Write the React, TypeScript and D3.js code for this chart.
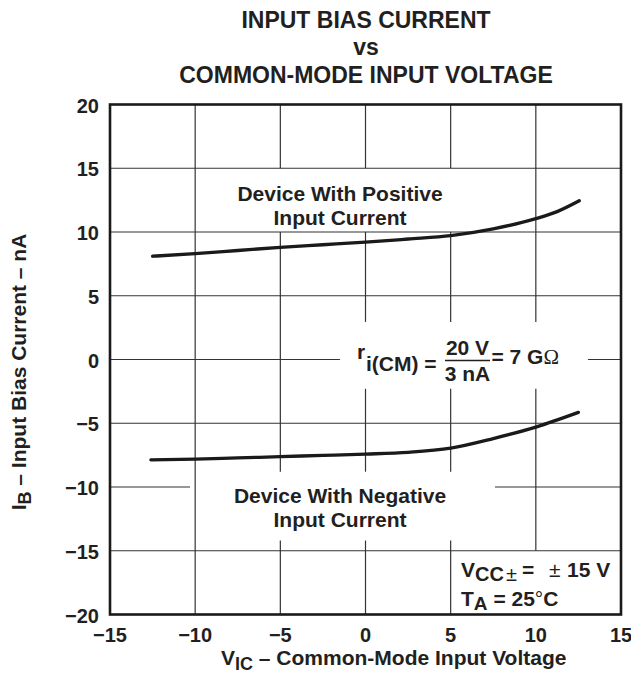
import React from "react";
import * as d3 from "d3";

const xTicks = [-15, -10, -5, 0, 5, 10, 15];
const yTicks = [20, 15, 10, 5, 0, -5, -10, -15, -20];
const xTickLabels = ["\u221215", "\u221210", "\u22125", "0", "5", "10", "15"];
const yTickLabels = ["20", "15", "10", "5", "0", "\u22125", "\u221210", "\u221215", "\u221220"];

const posX = [-12.5, -10, -7.5, -5, -2.5, 0, 2.5, 5, 7.5, 10, 11.25, 12.55];
const posY = [8.1, 8.3, 8.55, 8.8, 9.0, 9.2, 9.45, 9.72, 10.25, 11.05, 11.6, 12.45];
const negX = [-12.6, -10, -7.5, -5, -2.5, 0, 2.5, 5, 7.5, 10, 12.5];
const negY = [-7.87, -7.82, -7.72, -7.62, -7.52, -7.42, -7.28, -6.95, -6.2, -5.3, -4.15];

const FONT = "'Liberation Sans', Arial, Helvetica, sans-serif";

// gaps in gridlines (data units) where annotations sit
const vGaps: Record<string, number[][]> = {
  "-5": [[10, 15], [-14.2, -8.8]],
  "0": [[10, 15], [-2.3, 2.95], [-14.2, -8.8]],
  "5": [[10, 15], [-2.3, 2.95], [-14.2, -8.8]],
  "10": [[-2.3, 2.95], [-20, -15]],
};
const hGaps: Record<string, number[][]> = {
  "0": [[-1.5, 13.06]],
  "-10": [[-10.3, 7.6]],
};

function segments(lo: number, hi: number, gaps: number[][] = []) {
  const g = [...gaps].sort((a, b) => a[0] - b[0]);
  const out: number[][] = [];
  let cur = lo;
  for (const [a, b] of g) {
    if (a > cur) out.push([cur, Math.min(a, hi)]);
    cur = Math.max(cur, b);
  }
  if (cur < hi) out.push([cur, hi]);
  return out;
}

export default function App() {
  const x = d3.scaleLinear().domain([-15, 15]).range([110, 621]);
  const y = d3.scaleLinear().domain([-20, 20]).range([614.5, 104.5]);
  const line = d3
    .line<[number, number]>()
    .x((d) => x(d[0]))
    .y((d) => y(d[1]))
    .curve(d3.curveMonotoneX);
  const posPts = posX.map((v, i) => [v, posY[i]] as [number, number]);
  const negPts = negX.map((v, i) => [v, negY[i]] as [number, number]);
  const gridColor = "#333";

  const gridLines: JSX.Element[] = [];
  xTicks.slice(1, -1).forEach((xv) => {
    segments(-20, 20, vGaps[String(xv)]).forEach(([a, b], k) => {
      gridLines.push(
        <line key={`v${xv}_${k}`} x1={x(xv)} x2={x(xv)} y1={y(a)} y2={y(b)} stroke={gridColor} strokeWidth={1.2} />
      );
    });
  });
  yTicks.slice(1, -1).forEach((yv) => {
    segments(-15, 15, hGaps[String(yv)]).forEach(([a, b], k) => {
      gridLines.push(
        <line key={`h${yv}_${k}`} y1={y(yv)} y2={y(yv)} x1={x(a)} x2={x(b)} stroke={gridColor} strokeWidth={1.2} />
      );
    });
  });

  const thin = { fontWeight: "normal" as const };

  return (
    <svg
      width={631}
      height={677}
      style={{ position: "absolute", left: 0, top: 0, background: "#fff" }}
      fontFamily={FONT}
      fontWeight="bold"
      fill="#231f20"
    >
      <rect x={0} y={0} width={631} height={677} fill="#fff" />
      <g textAnchor="middle" fontSize={23}>
        <text x={366} y={28}>INPUT BIAS CURRENT</text>
        <text x={366} y={55}>vs</text>
        <text x={366} y={83}>COMMON-MODE INPUT VOLTAGE</text>
      </g>
      {gridLines}
      <path d={line(posPts) || ""} fill="none" stroke="#1a1a1a" strokeWidth={3.3} strokeLinecap="round" />
      <path d={line(negPts) || ""} fill="none" stroke="#1a1a1a" strokeWidth={3.3} strokeLinecap="round" />
      <rect x={x(-15)} y={y(20)} width={x(15) - x(-15)} height={y(-20) - y(20)} fill="none" stroke="#1a1a1a" strokeWidth={2.6} />

      <g fontSize={20}>
        {yTicks.map((v, i) => (
          <text key={`yt${v}`} x={99} y={y(v) + 8} textAnchor="end">{yTickLabels[i]}</text>
        ))}
        {xTicks.map((v, i) => (
          <text key={`xt${v}`} x={x(v)} y={642} textAnchor="middle">{xTickLabels[i]}</text>
        ))}
      </g>

      <g fontSize={21} textAnchor="middle">
        <text x={340} y={201}>Device With Positive</text>
        <text x={340} y={225}>Input Current</text>
        <text x={340} y={503}>Device With Negative</text>
        <text x={340} y={527}>Input Current</text>
      </g>

      {/* formula */}
      <g fontSize={21}>
        <text x={357} y={359}>r</text>
        <text x={366} y={371}>i(CM) =</text>
        <text x={467.5} y={355} textAnchor="middle">20 V</text>
        <line x1={445} x2={490} y1={360.5} y2={360.5} stroke="#231f20" strokeWidth={1.6} />
        <text x={467.5} y={381} textAnchor="middle">3 nA</text>
        <text x={491.5} y={364}>
          = 7 G<tspan fontFamily="'Liberation Serif', 'Times New Roman', serif" fontWeight="normal">Ω</tspan>
        </text>
      </g>

      {/* conditions */}
      <g fontSize={21}>
        <text x={461} y={577}>V</text>
        <text x={475} y={581} fontSize={20}>CC</text>
        <text x={506} y={581} fontSize={20} {...thin}>±</text>
        <text x={522} y={577}>=</text>
        <text x={549} y={577} {...thin}>±</text>
        <text x={567} y={577}>15 V</text>
        <text x={461} y={606}>
          T<tspan dy={4} fontSize={19}>A</tspan>
          <tspan dy={-4}> = 25</tspan>
          <tspan {...thin}>°</tspan>C
        </text>
      </g>

      {/* axis titles */}
      <text x={221} y={665} fontSize={21}>
        V<tspan dy={5} fontSize={18}>IC</tspan>
        <tspan dy={-5}> – Common-Mode Input Voltage</tspan>
      </text>
      <text transform="translate(26,372) rotate(-90)" textAnchor="middle" fontSize={21}>
        I<tspan dy={5} fontSize={18}>B</tspan>
        <tspan dy={-5}> – Input Bias Current – nA</tspan>
      </text>
    </svg>
  );
}
